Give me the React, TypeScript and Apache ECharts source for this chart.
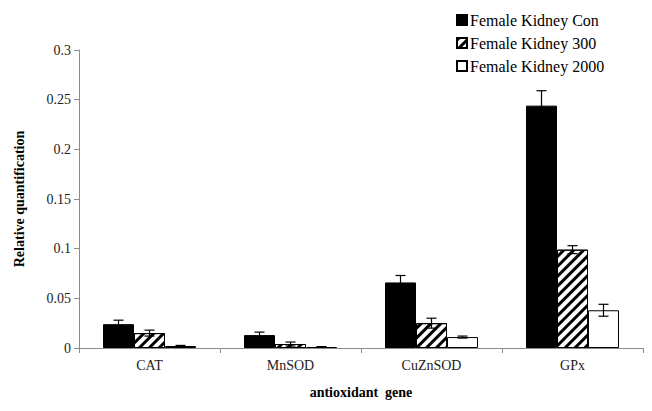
import React, { useEffect, useRef } from "react";
import * as echarts from "echarts";

const categories = ["CAT", "MnSOD", "CuZnSOD", "GPx"];
const seriesNames = ["Female Kidney Con", "Female Kidney 300", "Female Kidney 2000"];
const conValues = [0.024, 0.013, 0.066, 0.244];
const conErrors = [0.004, 0.003, 0.007, 0.015];
const d300Values = [0.015, 0.004, 0.025, 0.099];
const d300Errors = [0.003, 0.002, 0.005, 0.004];
const d2000Values = [0.002, 0.001, 0.011, 0.038];
const d2000Errors = [0.0006, 0.0004, 0.001, 0.006];
const yTicks = [0, 0.05, 0.1, 0.15, 0.2, 0.25, 0.3];

const FONT = "Liberation Serif, Times New Roman, DejaVu Serif, serif";
const BAR_W = 31;

function errorSeries(idx: number, values: number[], errors: number[]) {
  return {
    type: "custom",
    name: seriesNames[idx] + " err",
    coordinateSystem: "cartesian2d",
    silent: true,
    z: 5,
    data: values.map((v, i) => [i, v, errors[i]]),
    encode: { x: 0, y: 1 },
    renderItem: (params: any, api: any) => {
      const x = api.value(0);
      const y = api.value(1);
      const e = api.value(2);
      const top = api.coord([x, y + e]);
      const bot = api.coord([x, Math.max(0, y - e)]);
      const cx = top[0] + (idx - 1) * BAR_W;
      const half = 5;
      const st = { stroke: "#000", lineWidth: 1.2 };
      return {
        type: "group",
        children: [
          { type: "line", shape: { x1: cx, y1: top[1], x2: cx, y2: bot[1] }, style: st },
          { type: "line", shape: { x1: cx - half, y1: top[1], x2: cx + half, y2: top[1] }, style: st },
          { type: "line", shape: { x1: cx - half, y1: bot[1], x2: cx + half, y2: bot[1] }, style: st },
        ],
      };
    },
  };
}

export default function App() {
  const ref = useRef<HTMLDivElement>(null);
  useEffect(() => {
    if (!ref.current) return;
    const chart = echarts.init(ref.current, undefined, { renderer: "svg" });
    const border = { borderColor: "#000", borderWidth: 1 };
    chart.setOption({
      animation: false,
      backgroundColor: "#fff",
      textStyle: { fontFamily: FONT },
      grid: { left: 79, right: 9, top: 50, bottom: 63, containLabel: false },
      legend: {
        orient: "vertical",
        left: 451,
        top: 7,
        itemWidth: 10,
        itemHeight: 10,
        itemGap: 7,
        icon: "rect",
        data: seriesNames,
        textStyle: { fontFamily: FONT, fontSize: 16, color: "#000", padding: [0, 0, 0, -2] },
      },
      xAxis: {
        type: "category",
        data: categories,
        name: "antioxidant  gene",
        nameLocation: "middle",
        nameGap: 37,
        nameTextStyle: { fontFamily: FONT, fontSize: 14, fontWeight: "bold", color: "#000" },
        axisLine: { lineStyle: { color: "#8c8c8c", width: 1 } },
        axisTick: { show: true, length: 5, lineStyle: { color: "#8c8c8c" } },
        axisLabel: { fontFamily: FONT, fontSize: 14, color: "#222", margin: 10 },
      },
      yAxis: {
        type: "value",
        min: 0,
        max: 0.3,
        interval: 0.05,
        name: "Relative quantification",
        nameLocation: "middle",
        nameGap: 53,
        nameTextStyle: { fontFamily: FONT, fontSize: 14, fontWeight: "bold", color: "#000" },
        splitLine: { show: false },
        axisLine: { show: true, lineStyle: { color: "#8c8c8c", width: 1 } },
        axisTick: { show: true, length: 5, lineStyle: { color: "#8c8c8c" } },
        axisLabel: {
          fontFamily: FONT,
          fontSize: 14,
          color: "#222",
          margin: 8,
          formatter: (v: number) => {
            const t = yTicks.find((k) => Math.abs(k - v) < 1e-9);
            return String(t !== undefined ? t : v);
          },
        },
      },
      series: [
        {
          type: "bar",
          name: seriesNames[0],
          data: conValues,
          barWidth: BAR_W,
          barGap: "0%",
          itemStyle: { color: "#000", ...border },
        },
        {
          type: "bar",
          name: seriesNames[1],
          data: d300Values,
          barWidth: BAR_W,
          barGap: "0%",
          itemStyle: {
            color: "#fff",
            ...border,
            decal: {
              symbol: "rect",
              symbolSize: 1,
              dashArrayX: [1, 0],
              dashArrayY: [3, 4],
              rotation: -Math.PI / 4,
              color: "#000",
            },
          },
        },
        {
          type: "bar",
          name: seriesNames[2],
          data: d2000Values,
          barWidth: BAR_W,
          barGap: "0%",
          itemStyle: { color: "#fff", ...border },
        },
        errorSeries(0, conValues, conErrors),
        errorSeries(1, d300Values, d300Errors),
        errorSeries(2, d2000Values, d2000Errors),
      ],
    });
    return () => chart.dispose();
  }, []);
  return (
    <div
      ref={ref}
      style={{ position: "absolute", left: 0, top: 0, width: 652, height: 411 }}
    />
  );
}
